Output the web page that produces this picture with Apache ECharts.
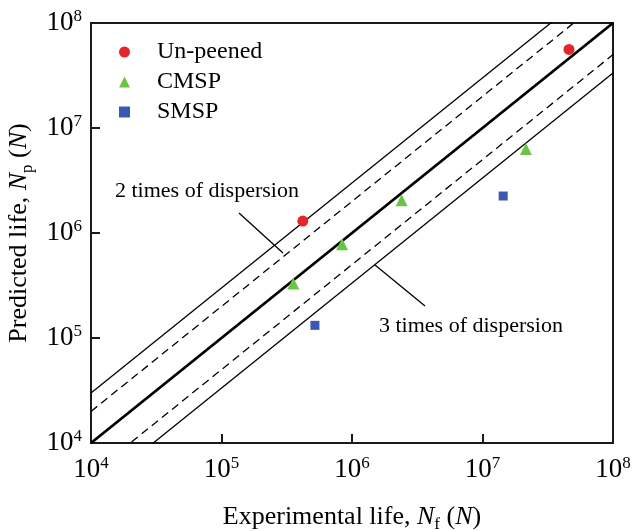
<!DOCTYPE html>
<html>
<head>
<meta charset="utf-8">
<script src="https://cdn.jsdelivr.net/npm/echarts@6/dist/echarts.min.js"></script>
<style>
  html, body { margin: 0; padding: 0; background: #fff; }
  #chart { width: 635px; height: 531px; }
</style>
</head>
<body>
<div id="chart"></div>
<script>
// experimental life Nf (x) vs predicted life Np (y)
var unpeenedNf = [4.2e5, 4.6e7];
var unpeenedNp = [1.3e6, 5.6e7];
var cmspNf = [3.55e5, 8.4e5, 2.4e6, 2.15e7];
var cmspNp = [3.3e5, 7.8e5, 2.05e6, 6.3e6];
var smspNf = [5.2e5, 1.44e7];
var smspNp = [1.32e5, 2.25e6];
// dispersion band factors (3x, 2x, 1:1)
var bandFactors = [3, 2, 1, 1 / 2, 1 / 3];
var tickExponents = [4, 5, 6, 7, 8];

var serif = '"Liberation Serif", "DejaVu Serif", serif';
var axisMin = Math.pow(10, tickExponents[0]);
var axisMax = Math.pow(10, tickExponents[tickExponents.length - 1]);

function pairs(xs, ys) {
  return xs.map(function (x, i) { return [x, ys[i]]; });
}

var labelRich = {
  b: { fontFamily: serif, fontSize: 27, color: '#000', lineHeight: 30 },
  s: { fontFamily: serif, fontSize: 17, color: '#000', lineHeight: 17, verticalAlign: 'top' }
};
var nameRich = {
  n: { fontFamily: serif, fontSize: 26, color: '#000', lineHeight: 32 },
  i: { fontFamily: serif, fontSize: 26, color: '#000', lineHeight: 32, fontStyle: 'italic' },
  sub: { fontFamily: serif, fontSize: 17, color: '#000', lineHeight: 14, verticalAlign: 'bottom' }
};

function logAxis(name, gap, labelMargin) {
  return {
    type: 'log',
    logBase: 10,
    min: axisMin,
    max: axisMax,
    name: name,
    nameLocation: 'middle',
    nameGap: gap,
    nameTextStyle: { rich: nameRich },
    axisLine: { show: true, lineStyle: { color: '#1a1a1a', width: 2 } },
    axisTick: { show: true, inside: true, length: 9, lineStyle: { color: '#1a1a1a', width: 2 } },
    minorTick: { show: false },
    splitLine: { show: false },
    axisLabel: {
      margin: labelMargin,
      formatter: function (v) {
        return '{b|10}{s|' + Math.round(Math.log10(v)) + '}';
      },
      rich: labelRich
    }
  };
}

var bandSeries = bandFactors.map(function (k) {
  var dashed = k === 2 || k === 0.5;
  return {
    type: 'line',
    silent: true,
    symbol: 'none',
    clip: true,
    z: 1,
    data: [[axisMin, axisMin * k], [axisMax, axisMax * k]],
    lineStyle: {
      color: '#000',
      width: k === 1 ? 2.8 : 1.3,
      type: dashed ? [8, 5] : 'solid'
    }
  };
});

var option = {
  backgroundColor: '#fff',
  animation: false,
  grid: {
    left: 91, right: 22, top: 23, bottom: 88,
    outerBoundsMode: 'none',
    show: true, borderColor: '#1a1a1a', borderWidth: 2
  },
  xAxis: logAxis('{n|Experimental life, }{i|N}{sub|f}{n| (}{i|N}{n|)}', 58, 12),
  yAxis: logAxis('{n|Predicted life, }{i|N}{sub|p}{n| (}{i|N}{n|)}', 51, 9),
  legend: {
    orient: 'vertical',
    left: 114,
    top: 35,
    itemWidth: 11,
    itemHeight: 11,
    itemGap: 6,
    textStyle: { fontFamily: serif, fontSize: 24, color: '#000', lineHeight: 24, padding: [0, 0, 0, 22] },
    data: ['Un-peened', 'CMSP', 'SMSP']
  },
  graphic: [
    { type: 'text', left: 115, top: 180, style: { text: '2 times of dispersion', font: '22px ' + serif, fill: '#000' } },
    { type: 'text', left: 379, top: 315, style: { text: '3 times of dispersion', font: '22px ' + serif, fill: '#000' } },
    { type: 'line', shape: { x1: 239, y1: 213, x2: 283, y2: 253 }, style: { stroke: '#000', lineWidth: 1.3 } },
    { type: 'line', shape: { x1: 375, y1: 265, x2: 425, y2: 306 }, style: { stroke: '#000', lineWidth: 1.3 } }
  ],
  series: bandSeries.concat([
    {
      name: 'Un-peened', type: 'scatter', symbol: 'circle', symbolSize: 11, z: 3,
      itemStyle: { color: '#e3262a', opacity: 1 },
      data: pairs(unpeenedNf, unpeenedNp)
    },
    {
      name: 'CMSP', type: 'scatter', symbol: 'triangle', symbolSize: 12, z: 3,
      itemStyle: { color: '#6cc446', opacity: 1 },
      data: pairs(cmspNf, cmspNp)
    },
    {
      name: 'SMSP', type: 'scatter', symbol: 'rect', symbolSize: 9, z: 3,
      itemStyle: { color: '#3a58b0', opacity: 1 },
      data: pairs(smspNf, smspNp)
    }
  ])
};

var myChart = echarts.init(document.getElementById('chart'));
myChart.setOption(option);
</script>
</body>
</html>
